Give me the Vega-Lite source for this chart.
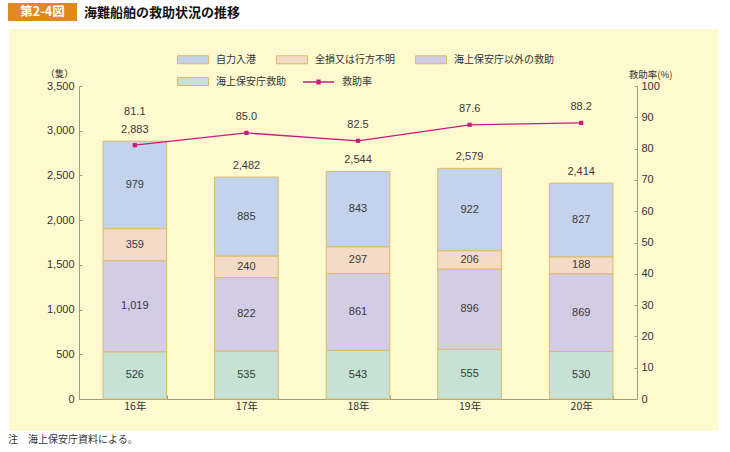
{
  "$schema": "https://vega.github.io/schema/vega-lite/v6.json",
  "width": 558,
  "height": 313,
  "autosize": {"type": "none"},
  "padding": {"left": 79, "top": 86, "right": 93, "bottom": 53},
  "background": "#FFF9D0",
  "config": {
    "font": "Liberation Sans, Noto Sans CJK JP",
    "view": {"stroke": null},
    "legend": {
      "orient": "none", "title": null, "symbolSize": 100, "symbolOpacity": 1,
      "labelOffset": 28, "labelFontSize": 10, "labelFont": "Noto Sans CJK JP",
      "labelColor": "#333333", "columnPadding": 18, "padding": 0
    },
    "axis": {
      "grid": false,
      "labelFontSize": 11,
      "labelColor": "#333333",
      "domainColor": "#A29A7C",
      "tickColor": "#A29A7C",
      "titleColor": "#333333",
      "titleFontWeight": "normal"
    },
    "axisX": {"labelAngle": 0, "tickBand": "extent", "tickSize": -4, "labelPadding": 6, "labelFont": "Noto Sans CJK JP", "labelFontSize": 10.5},
    "axisY": {"tickSize": -3, "titleAngle": 0, "titleAlign": "center", "titleBaseline": "middle", "titleFontSize": 9.5, "titleFont": "Noto Sans CJK JP"},
    "axisLeft": {"tickCount": 8, "labelPadding": 8, "titleX": -20, "titleY": -13},
    "axisRight": {"tickCount": 10, "labelPadding": 7, "titleX": 13, "titleY": -12}
  },
  "datasets": {
    "segments": [
      {"year": "16年", "category": "自力入港", "value": 979},
      {"year": "16年", "category": "全損又は行方不明", "value": 359},
      {"year": "16年", "category": "海上保安庁以外の救助", "value": 1019},
      {"year": "16年", "category": "海上保安庁救助", "value": 526},
      {"year": "17年", "category": "自力入港", "value": 885},
      {"year": "17年", "category": "全損又は行方不明", "value": 240},
      {"year": "17年", "category": "海上保安庁以外の救助", "value": 822},
      {"year": "17年", "category": "海上保安庁救助", "value": 535},
      {"year": "18年", "category": "自力入港", "value": 843},
      {"year": "18年", "category": "全損又は行方不明", "value": 297},
      {"year": "18年", "category": "海上保安庁以外の救助", "value": 861},
      {"year": "18年", "category": "海上保安庁救助", "value": 543},
      {"year": "19年", "category": "自力入港", "value": 922},
      {"year": "19年", "category": "全損又は行方不明", "value": 206},
      {"year": "19年", "category": "海上保安庁以外の救助", "value": 896},
      {"year": "19年", "category": "海上保安庁救助", "value": 555},
      {"year": "20年", "category": "自力入港", "value": 827},
      {"year": "20年", "category": "全損又は行方不明", "value": 188},
      {"year": "20年", "category": "海上保安庁以外の救助", "value": 869},
      {"year": "20年", "category": "海上保安庁救助", "value": 530}
    ],
    "totals": [
      {"year": "16年", "total": 2883, "rate": 81.1},
      {"year": "17年", "total": 2482, "rate": 85.0},
      {"year": "18年", "total": 2544, "rate": 82.5},
      {"year": "19年", "total": 2579, "rate": 87.6},
      {"year": "20年", "total": 2414, "rate": 88.2}
    ]
  },
  "layer": [
    {
      "data": {"values": [{}]},
      "layer": [
        {
          "mark": {"type": "rect", "fill": "white"},
          "encoding": {
            "x": {"datum": -0.1416, "type": "quantitative", "scale": {"domain": [0, 1], "nice": false, "zero": false}, "axis": null},
            "x2": {"datum": 1.1667},
            "y": {"datum": 1.2748, "type": "quantitative", "scale": {"domain": [0, 1], "nice": false, "zero": false}, "axis": null},
            "y2": {"datum": 1.1821}
          }
        },
        {
          "mark": {"type": "rect", "fill": "white"},
          "encoding": {
            "x": {"datum": -0.1416, "type": "quantitative", "axis": null},
            "x2": {"datum": 1.1667},
            "y": {"datum": -0.1022, "type": "quantitative", "axis": null},
            "y2": {"datum": -0.1693}
          }
        },
        {
          "mark": {"type": "rect", "fill": "white"},
          "encoding": {
            "x": {"datum": -0.1416, "type": "quantitative", "axis": null},
            "x2": {"datum": -0.1254},
            "y": {"datum": 1.1821, "type": "quantitative", "axis": null},
            "y2": {"datum": -0.1022}
          }
        },
        {
          "mark": {"type": "rect", "fill": "white"},
          "encoding": {
            "x": {"datum": 1.1452, "type": "quantitative", "axis": null},
            "x2": {"datum": 1.1667},
            "y": {"datum": 1.1821, "type": "quantitative", "axis": null},
            "y2": {"datum": -0.1022}
          }
        },
        {
          "mark": {"type": "rect", "fill": "#E2891E"},
          "encoding": {
            "x": {"datum": -0.1272, "type": "quantitative", "axis": null},
            "x2": {"datum": -0.0036},
            "y": {"datum": 1.2652, "type": "quantitative", "axis": null},
            "y2": {"datum": 1.2077}
          }
        },
        {
          "mark": {"type": "text", "color": "white", "fontWeight": "bold", "fontSize": 12.5, "font": "Noto Sans CJK JP", "align": "center", "baseline": "middle"},
          "encoding": {
            "x": {"datum": -0.0654, "type": "quantitative", "axis": null},
            "y": {"datum": 1.2364, "type": "quantitative", "axis": null},
            "text": {"value": "第2-4図"}
          }
        },
        {
          "mark": {"type": "text", "color": "#111111", "fontWeight": "bold", "fontSize": 13, "font": "Noto Sans CJK JP", "align": "left", "baseline": "middle"},
          "encoding": {
            "x": {"datum": 0.009, "type": "quantitative", "axis": null},
            "y": {"datum": 1.2332, "type": "quantitative", "axis": null},
            "text": {"value": "海難船舶の救助状況の推移"}
          }
        },
        {
          "mark": {"type": "text", "color": "#333333", "fontSize": 10, "font": "Noto Sans CJK JP", "align": "left", "baseline": "middle"},
          "encoding": {
            "x": {"datum": -0.1272, "type": "quantitative", "axis": null},
            "y": {"datum": -0.131, "type": "quantitative", "axis": null},
            "text": {"value": "注　海上保安庁資料による。"}
          }
        }
      ]
    },
    {
      "layer": [
        {
          "layer": [
            {
              "data": {"name": "segments"},
              "transform": [
                {"calculate": "indexof(['海上保安庁救助','海上保安庁以外の救助','全損又は行方不明','自力入港'], datum.category)", "as": "ord"},
                {"stack": "value", "groupby": ["year"], "sort": [{"field": "ord", "order": "ascending"}], "as": ["v0", "v1"]},
                {"filter": "datum.category !== '海上保安庁救助'"}
              ],
              "mark": {"type": "bar", "stroke": "#DDBB66", "strokeWidth": 1},
              "encoding": {
                "x": {
                  "field": "year", "type": "nominal", "sort": null, "title": null,
                  "scale": {"type": "band", "paddingInner": 0.43, "paddingOuter": 0.215}
                },
                "y": {"field": "v1", "type": "quantitative", "title": "（隻）", "scale": {"domain": [0, 3500], "nice": false}},
                "y2": {"field": "v0"},
                "color": {
                  "field": "category", "type": "nominal",
                  "scale": {
                    "domain": ["自力入港", "全損又は行方不明", "海上保安庁以外の救助"],
                    "range": ["#C3D3EC", "#F4DBC7", "#D2CCE4"]
                  },
                  "legend": {
                    "legendX": 98, "legendY": -32, "direction": "horizontal",
                    "symbolType": "M-1,-0.8H5.2V0.8H-1Z",
                    "symbolStrokeColor": "#DDBB66", "symbolStrokeWidth": 1
                  }
                }
              }
            },
            {
              "data": {"name": "segments"},
              "transform": [
                {"calculate": "indexof(['海上保安庁救助','海上保安庁以外の救助','全損又は行方不明','自力入港'], datum.category)", "as": "ord"},
                {"stack": "value", "groupby": ["year"], "sort": [{"field": "ord", "order": "ascending"}], "as": ["v0", "v1"]},
                {"filter": "datum.category === '海上保安庁救助'"}
              ],
              "mark": {"type": "bar", "stroke": "#DDBB66", "strokeWidth": 1},
              "encoding": {
                "x": {"field": "year", "type": "nominal", "sort": null, "title": null},
                "y": {"field": "v1", "type": "quantitative", "title": "（隻）"},
                "y2": {"field": "v0"},
                "fill": {
                  "field": "category", "type": "nominal",
                  "scale": {"domain": ["海上保安庁救助"], "range": ["#C5E2D5"]},
                  "legend": {
                    "legendX": 98, "legendY": -10, "direction": "horizontal",
                    "symbolType": "M-1,-0.8H5.2V0.8H-1Z",
                    "symbolStrokeColor": "#DDBB66", "symbolStrokeWidth": 1
                  }
                }
              }
            },
            {
              "data": {"name": "segments"},
              "transform": [
                {"calculate": "indexof(['海上保安庁救助','海上保安庁以外の救助','全損又は行方不明','自力入港'], datum.category)", "as": "ord"},
                {"stack": "value", "groupby": ["year"], "sort": [{"field": "ord", "order": "ascending"}], "as": ["v0", "v1"]},
                {"calculate": "(datum.v0 + datum.v1) / 2", "as": "mid"}
              ],
              "mark": {"type": "text", "fontSize": 11, "color": "#3A3A3A", "baseline": "middle"},
              "encoding": {
                "x": {"field": "year", "type": "nominal", "sort": null, "title": null},
                "y": {"field": "mid", "type": "quantitative", "title": "（隻）"},
                "text": {"field": "value", "type": "quantitative", "format": ","}
              }
            },
            {
              "data": {"name": "totals"},
              "mark": {"type": "text", "fontSize": 11, "color": "#3A3A3A", "baseline": "middle", "dy": -11},
              "encoding": {
                "x": {"field": "year", "type": "nominal", "sort": null, "title": null},
                "y": {"field": "total", "type": "quantitative", "title": "（隻）"},
                "text": {"field": "total", "type": "quantitative", "format": ","}
              }
            }
          ]
        },
        {
          "data": {"name": "totals"},
          "layer": [
            {
              "mark": {"type": "line", "strokeWidth": 1.3},
              "encoding": {
                "x": {"field": "year", "type": "nominal", "sort": null, "title": null},
                "y": {"field": "rate", "type": "quantitative", "title": "救助率(%)", "scale": {"domain": [0, 100], "nice": false}},
                "stroke": {
                  "datum": "救助率", "type": "nominal",
                  "scale": {"domain": ["救助率"], "range": ["#CB1A7E"]},
                  "legend": {
                    "legendX": 223, "legendY": -10,
                    "symbolType": "M-1,0H5.2M1.8,-0.35H2.4V0.35H1.8Z",
                    "symbolStrokeWidth": 1.3, "symbolFillColor": "#CB1A7E"
                  }
                }
              }
            },
            {
              "mark": {"type": "point", "shape": "square", "filled": true, "size": 18, "color": "#CB1A7E", "opacity": 1},
              "encoding": {
                "x": {"field": "year", "type": "nominal", "sort": null, "title": null},
                "y": {"field": "rate", "type": "quantitative", "title": "救助率(%)"}
              }
            },
            {
              "transform": [{"filter": "datum.year !== '16年'"}],
              "mark": {"type": "text", "fontSize": 11, "color": "#3A3A3A", "baseline": "middle", "dy": -16},
              "encoding": {
                "x": {"field": "year", "type": "nominal", "sort": null, "title": null},
                "y": {"field": "rate", "type": "quantitative", "title": "救助率(%)"},
                "text": {"field": "rate", "type": "quantitative", "format": ".1f"}
              }
            },
            {
              "transform": [{"filter": "datum.year === '16年'"}],
              "mark": {"type": "text", "fontSize": 11, "color": "#3A3A3A", "baseline": "middle", "dy": -33},
              "encoding": {
                "x": {"field": "year", "type": "nominal", "sort": null, "title": null},
                "y": {"field": "rate", "type": "quantitative", "title": "救助率(%)"},
                "text": {"field": "rate", "type": "quantitative", "format": ".1f"}
              }
            }
          ]
        }
      ],
      "resolve": {"scale": {"y": "independent"}}
    }
  ],
  "resolve": {"scale": {"x": "independent", "y": "independent"}}
}
